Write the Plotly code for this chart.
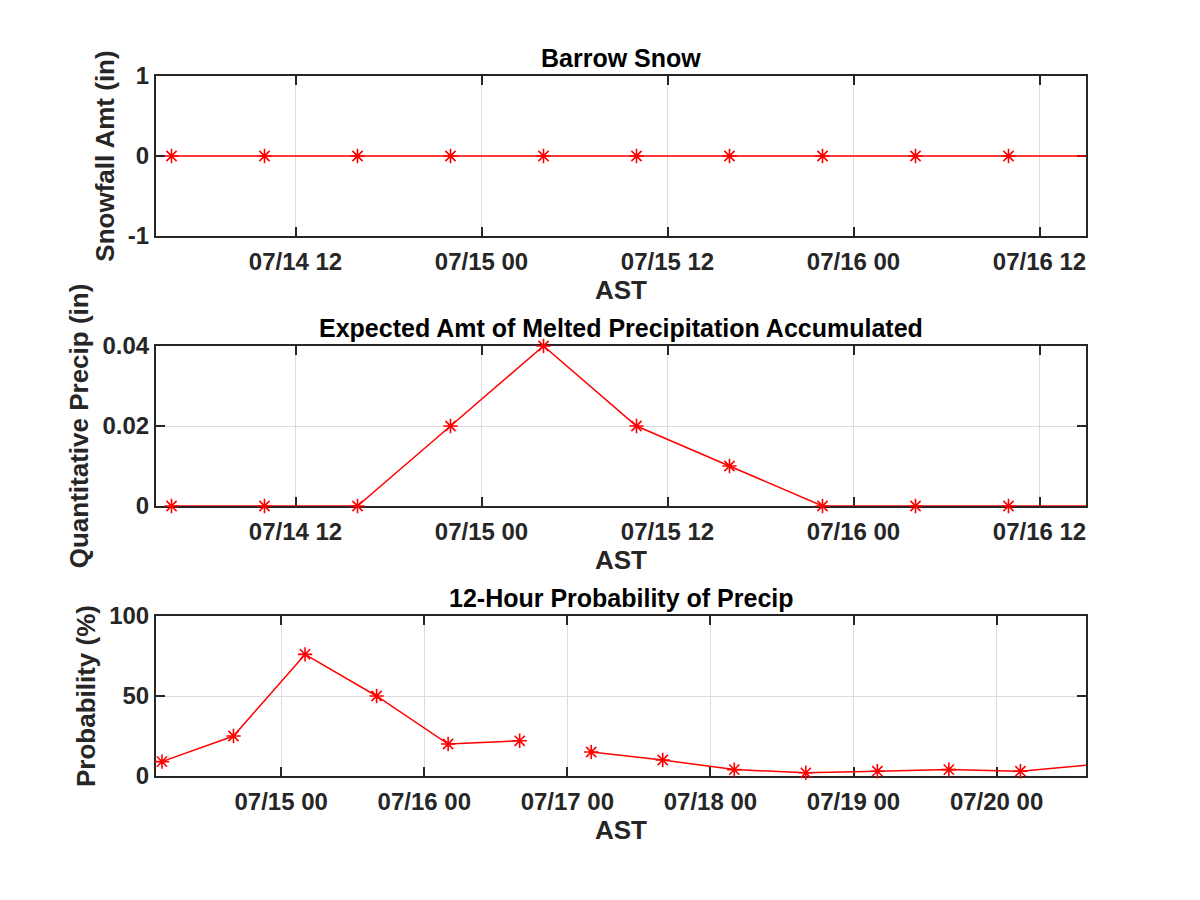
import plotly.graph_objects as go
from plotly.subplots import make_subplots

# ---- data ----
snow_times = ["2017-07-14 04:00", "2017-07-14 10:00", "2017-07-14 16:00", "2017-07-14 22:00",
              "2017-07-15 04:00", "2017-07-15 10:00", "2017-07-15 16:00", "2017-07-15 22:00",
              "2017-07-16 04:00", "2017-07-16 10:00", "2017-07-16 16:00"]
snow_amt = [0, 0, 0, 0, 0, 0, 0, 0, 0, 0, 0]

qpf_times = snow_times
qpf_amt = [0, 0, 0, 0.02, 0.04, 0.02, 0.01, 0, 0, 0, 0]

pop_times = ["2017-07-14 04:00", "2017-07-14 16:00", "2017-07-15 04:00", "2017-07-15 16:00",
             "2017-07-16 04:00", "2017-07-16 16:00", "2017-07-16 22:00", "2017-07-17 04:00",
             "2017-07-17 16:00", "2017-07-18 04:00", "2017-07-18 16:00", "2017-07-19 04:00",
             "2017-07-19 16:00", "2017-07-20 04:00", "2017-07-20 16:00"]
pop_pct = [9, 25, 76, 50, 20, 22, None, 15, 10, 4, 2, 3, 4, 3, 7]

titles = ["Barrow Snow", "Expected Amt of Melted Precipitation Accumulated",
          "12-Hour Probability of Precip"]
ylabels = ["Snowfall Amt (in)", "Quantitative Precip (in)", "Probability (%)"]
xlabel = "AST"

# ---- style ----
W, H = 1200, 900
AX = "#262626"
GRID = "#dcdcdc"
FONT = "Liberation Sans"
RED = "#ff0000"

fig = make_subplots(rows=3, cols=1)

series = [(snow_times, snow_amt), (qpf_times, qpf_amt), (pop_times, pop_pct)]
for i, (xs, ys) in enumerate(series, start=1):
    fig.add_trace(go.Scatter(
        x=xs, y=ys, mode="lines+markers",
        line=dict(color=RED, width=1.5),
        marker=dict(symbol="asterisk-open", size=12, color=RED, line=dict(color=RED, width=1.6)),
        connectgaps=False, cliponaxis=False, showlegend=False), row=i, col=1)

# panel pixel boxes (left, right, top, bottom)
L, R = 156, 1086
boxes = [(76, 236), (346, 506), (616, 776)]
x_ranges = [["2017-07-14 03:00", "2017-07-16 15:00"],
            ["2017-07-14 03:00", "2017-07-16 15:00"],
            ["2017-07-14 03:00", "2017-07-20 15:00"]]
x_dticks = [12 * 3600 * 1000, 12 * 3600 * 1000, 24 * 3600 * 1000]
y_ranges = [[-1, 1], [0, 0.04], [0, 100]]
y_ticks = [[-1, 0, 1], [0, 0.02, 0.04], [0, 50, 100]]
y_ticktext = [["-1", "0", "1"], ["0", "0.02", "0.04"], ["0", "50", "100"]]

tickfont = dict(family=FONT, size=24, color=AX, weight="bold")
labfont = dict(family=FONT, size=26, color=AX, weight="bold")

for i in range(3):
    top, bot = boxes[i]
    n = "" if i == 0 else str(i + 1)
    fig.layout["xaxis" + n].update(
        domain=[L / W, R / W], range=x_ranges[i], type="date",
        tick0="2017-07-14 00:00", dtick=x_dticks[i], tickformat="%m/%d %H",
        showgrid=True, gridcolor=GRID, gridwidth=1,
        showline=True, linecolor=AX, linewidth=2, mirror="ticks",
        ticks="inside", ticklen=9, tickwidth=2, tickcolor=AX,
        tickfont=tickfont, layer="below traces", ticklabelstandoff=3,
        title=dict(text=xlabel, font=labfont, standoff=7),
        zeroline=False, automargin=False)
    fig.layout["yaxis" + n].update(
        domain=[1 - bot / H, 1 - top / H], range=y_ranges[i],
        tickmode="array", tickvals=y_ticks[i], ticktext=y_ticktext[i],
        showgrid=True, gridcolor=GRID, gridwidth=1,
        showline=True, linecolor=AX, linewidth=2, mirror="ticks",
        ticks="inside", ticklen=9, tickwidth=2, tickcolor=AX,
        tickfont=tickfont, layer="below traces",
        title=dict(text=ylabels[i], font=labfont, standoff=6),
        zeroline=False, automargin=False)
    fig.add_annotation(
        text="<b>" + titles[i] + "</b>", xref="paper", yref="paper",
        x=(L + R) / 2 / W, y=1 - top / H, xanchor="center", yanchor="bottom",
        yshift=2, showarrow=False,
        font=dict(family=FONT, size=25, color="#000000"))

fig.update_layout(
    width=W, height=H, margin=dict(l=0, r=0, t=0, b=0),
    paper_bgcolor="white", plot_bgcolor="white", showlegend=False)

fig.write_html("out.html")
